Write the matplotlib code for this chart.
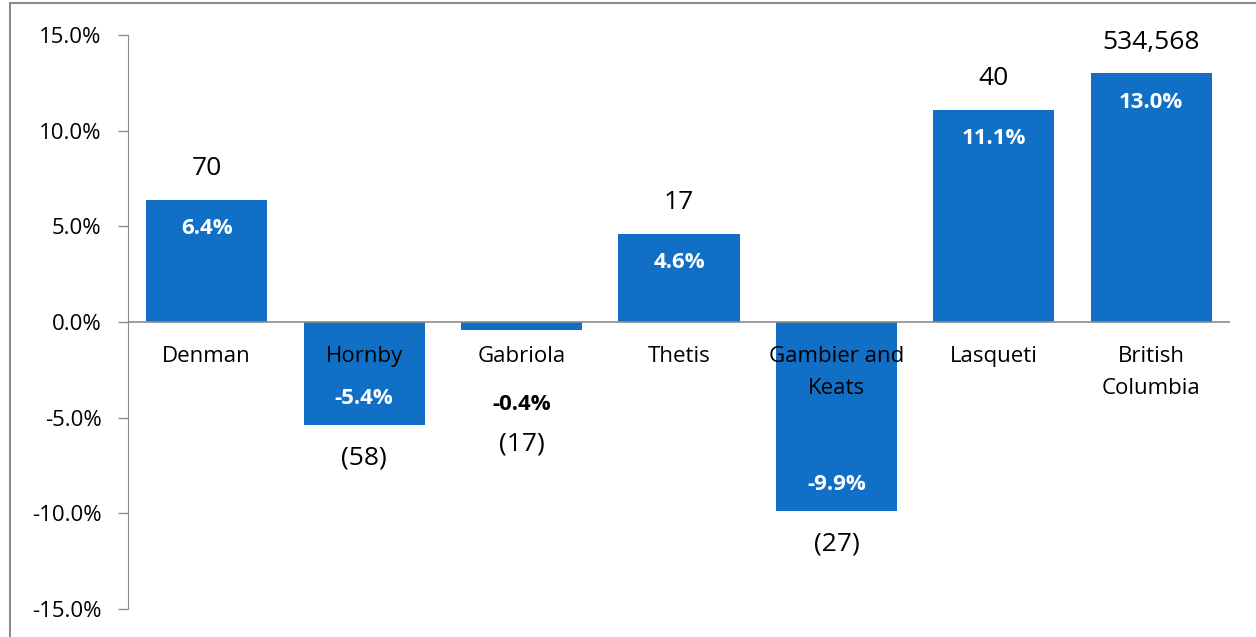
import matplotlib.pyplot as plt
from matplotlib.patches import Rectangle

# Population change by island
areas = ['Denman', 'Hornby', 'Gabriola', 'Thetis', 'Gambier and\nKeats', 'Lasqueti', 'British\nColumbia']
pct = [6.4, -5.4, -0.4, 4.6, -9.9, 11.1, 13.0]
counts = ['70', '(58)', '(17)', '17', '(27)', '40', '534,568']

BLUE = '#1170C6'
GREY = '#8C8C8C'

plt.rcParams['font.family'] = ['Open Sans', 'DejaVu Sans']

fig = plt.figure(figsize=(12.56, 6.37), dpi=100)
ax = fig.add_axes([0.1019, 0.044, 0.8774, 0.901])

x = range(len(areas))
ax.bar(x, pct, width=0.77, color=BLUE, zorder=2)

ax.set_xlim(-0.5, len(areas) - 0.5)
ax.set_ylim(-15, 15)
ax.set_yticks([-15, -10, -5, 0, 5, 10, 15])
ax.set_yticklabels(['%.1f%%' % v for v in [-15, -10, -5, 0, 5, 10, 15]], fontsize=16)
ax.set_xticks([])
ax.tick_params(axis='y', length=7, width=1, color=GREY, pad=12)

for s in ['top', 'right', 'bottom']:
    ax.spines[s].set_visible(False)
ax.spines['left'].set_color(GREY)
ax.axhline(0, color=GREY, lw=1.2, zorder=3)

# category labels just under zero line
for i, name in enumerate(areas):
    ax.annotate(name, (i, 0), xytext=(0, -24), textcoords='offset pixels',
                ha='center', va='top', fontsize=16, zorder=4, linespacing=1.7)

# value labels
for i, (v, c) in enumerate(zip(pct, counts)):
    if v > 0:
        ax.annotate('%.1f%%' % v, (i, v), xytext=(0, -29), textcoords='offset pixels',
                    ha='center', va='center', fontsize=16, fontweight='bold', color='white')
        ax.annotate(c, (i, v), xytext=(0, 31), textcoords='offset pixels',
                    ha='center', va='center', fontsize=19)
    elif v > -1:
        ax.annotate('%.1f%%' % v, (i, v), xytext=(0, -75), textcoords='offset pixels',
                    ha='center', va='center', fontsize=16, fontweight='bold', color='black')
        ax.annotate(c, (i, v), xytext=(0, -114), textcoords='offset pixels',
                    ha='center', va='center', fontsize=19)
    else:
        ax.annotate('%.1f%%' % v, (i, v), xytext=(0, 27), textcoords='offset pixels',
                    ha='center', va='center', fontsize=16, fontweight='bold', color='white')
        ax.annotate(c, (i, v), xytext=(0, -33), textcoords='offset pixels',
                    ha='center', va='center', fontsize=19)

# chart frame
fig.patches.append(Rectangle((10 / 1256, -0.1), 1.2, 1 - 3 / 637 + 0.1,
                             transform=fig.transFigure, fill=False,
                             edgecolor=GREY, lw=1.5))

fig.savefig('out.png', dpi=100)
